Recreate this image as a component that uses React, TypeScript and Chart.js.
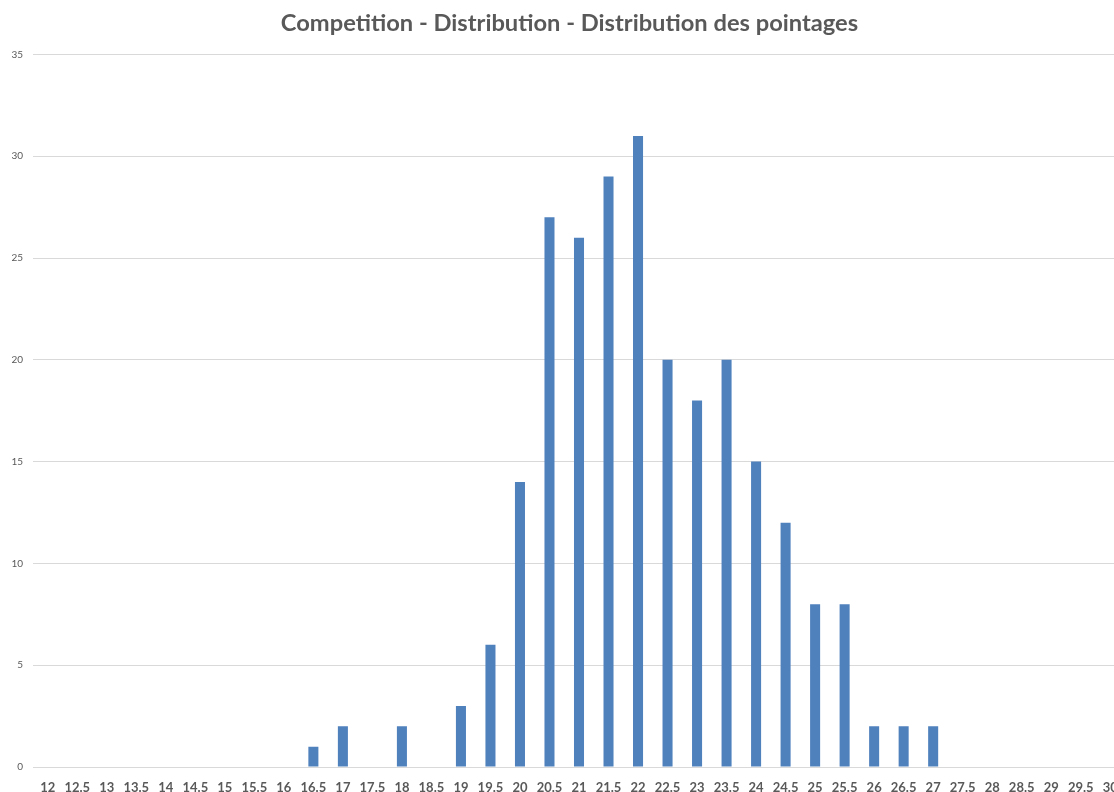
import React, { useEffect, useRef } from "react";
import { Chart, registerables } from "chart.js";

Chart.register(...registerables);

const categories = [
  "12", "12.5", "13", "13.5", "14", "14.5", "15", "15.5", "16", "16.5",
  "17", "17.5", "18", "18.5", "19", "19.5", "20", "20.5", "21", "21.5",
  "22", "22.5", "23", "23.5", "24", "24.5", "25", "25.5", "26", "26.5",
  "27", "27.5", "28", "28.5", "29", "29.5", "30",
];

const counts = [
  0, 0, 0, 0, 0, 0, 0, 0, 0, 1,
  2, 0, 2, 0, 3, 6, 14, 27, 26, 29,
  31, 20, 18, 20, 15, 12, 8, 8, 2, 2,
  2, 0, 0, 0, 0, 0, 0,
];

const yTicks = [0, 5, 10, 15, 20, 25, 30, 35];

const titleText = "Competition - Distribution - Distribution des pointages";

const titleShift = {
  id: "titleShift",
  afterLayout(chart: any) {
    const tb = chart.titleBlock;
    if (tb) {
      tb.left = tb.left + 14;
    }
  },
};

export default function App() {
  const ref = useRef<HTMLCanvasElement | null>(null);

  useEffect(() => {
    document.body.style.margin = "0";
    document.body.style.overflow = "hidden";
    const canvas = ref.current;
    if (!canvas) return;
    const chart = new Chart(canvas, {
      type: "bar",
      data: {
        labels: categories,
        datasets: [
          {
            data: counts,
            backgroundColor: "#4f81bd",
            barPercentage: 0.34,
            categoryPercentage: 1,
          },
        ],
      },
      plugins: [titleShift],
      options: {
        animation: false,
        responsive: false,
        maintainAspectRatio: false,
        layout: { padding: { left: 0, right: 0, top: 0, bottom: 0 } },
        plugins: {
          legend: { display: false },
          tooltip: { enabled: false },
          title: {
            display: true,
            text: titleText,
            color: "#595959",
            font: { family: "Lato", size: 23.7, weight: "bold" },
            padding: { top: 9, bottom: 17 },
          },
        },
        scales: {
          x: {
            grid: { display: false },
            border: { display: false },
            ticks: {
              color: "#595959",
              font: { family: "Lato", size: 13, weight: "bold" },
              maxRotation: 0,
              autoSkip: false,
              padding: 5,
            },
            afterFit: (s: any) => {
              s.height = 25;
            },
          },
          y: {
            min: 0,
            max: 35,
            afterBuildTicks: (s: any) => {
              s.ticks = yTicks.map((v) => ({ value: v }));
            },
            grid: { color: "#d9d9d9", drawTicks: false, lineWidth: 1 },
            border: { display: false },
            ticks: {
              color: "#595959",
              font: { family: "Lato", size: 10 },
              padding: 10,
            },
            afterFit: (s: any) => {
              s.width = 33;
            },
          },
        },
      },
    });
    return () => chart.destroy();
  }, []);

  return (
    <div style={{ position: "fixed", left: 0, top: 0, width: 1125, height: 792 }}>
      <canvas ref={ref} width={1125} height={792} style={{ width: 1125, height: 792, display: "block" }} />
    </div>
  );
}
